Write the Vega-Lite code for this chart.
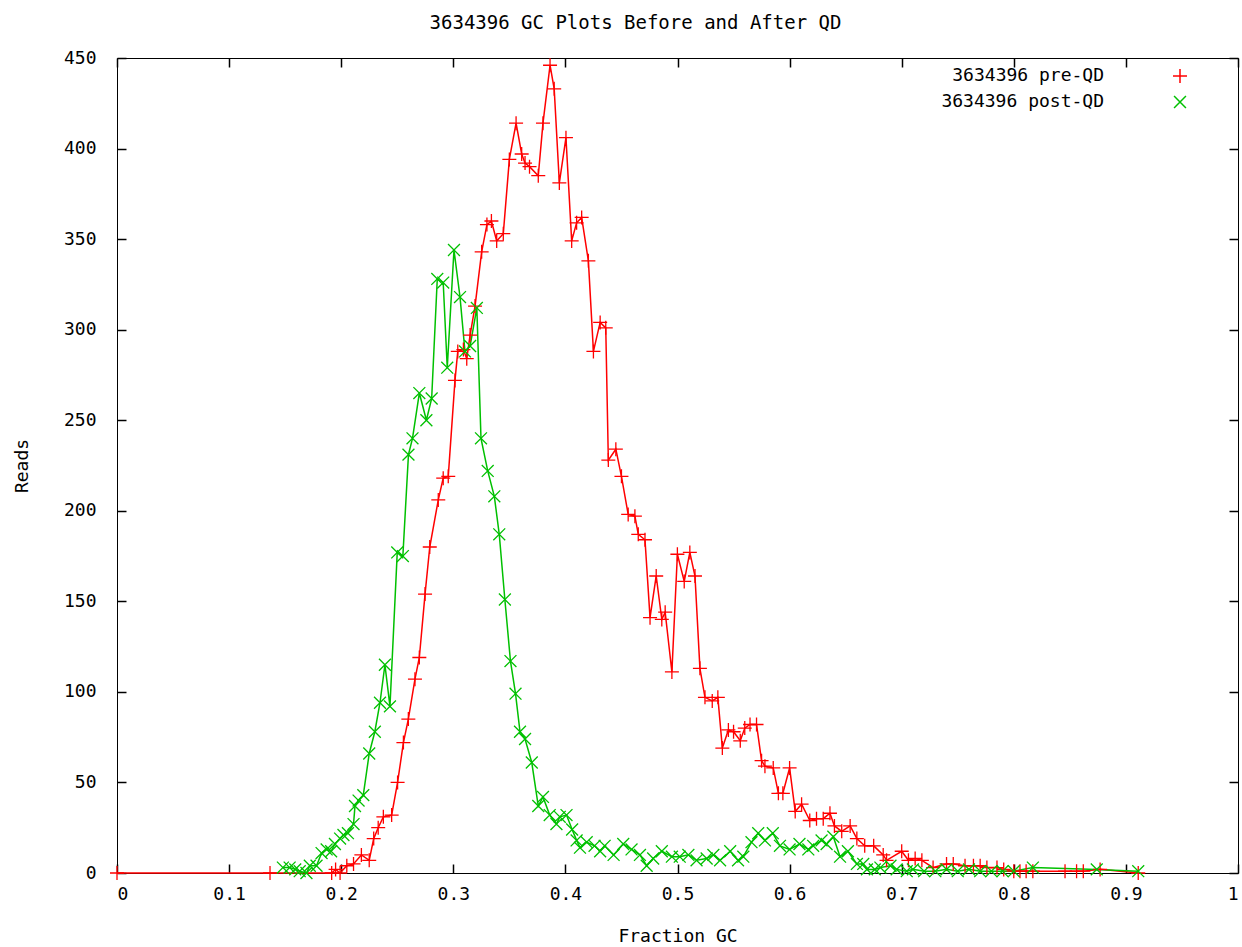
{
  "$schema": "https://vega.github.io/schema/vega-lite/v6.json",
  "width": 1121,
  "height": 815,
  "autosize": "none",
  "padding": {"left": 117, "top": 58, "right": 4, "bottom": 74},
  "background": "white",
  "title": {"text": "3634396 GC Plots Before and After QD", "font": "DejaVu Sans Mono", "fontSize": 19, "fontWeight": "normal", "color": "#000", "anchor": "middle", "dx": -42, "offset": 16},
  "config": {
    "view": {"stroke": "#000", "strokeWidth": 1},
    "axis": {"domain": false, "grid": false, "ticks": true, "tickColor": "#000", "tickOpacity": 1, "tickSize": 9, "tickWidth": 1.5, "offset": -9, "zindex": 1, "labelFont": "DejaVu Sans Mono", "labelFontSize": 18, "labelColor": "#000", "titleFont": "DejaVu Sans Mono", "titleFontSize": 18, "titleFontWeight": "normal", "titleColor": "#000"},
    "legend": {"orient": "none", "legendX": 1054, "legendY": 9, "title": null, "padding": 0, "labelAlign": "right", "labelOffset": -85, "labelLimit": 400, "labelFont": "DejaVu Sans Mono", "labelFontSize": 18, "labelColor": "#000", "rowPadding": 7, "symbolSize": 196, "symbolStrokeWidth": 1.5}
  },
  "resolve": {"legend": {"color": "independent", "shape": "independent"}},
  "data": {"values": [
    {"series": "3634396 pre-QD", "gc": 0, "reads": 0},
    {"series": "3634396 pre-QD", "gc": 0.1365, "reads": 0},
    {"series": "3634396 pre-QD", "gc": 0.1915, "reads": 0},
    {"series": "3634396 pre-QD", "gc": 0.195, "reads": 2},
    {"series": "3634396 pre-QD", "gc": 0.199, "reads": 0},
    {"series": "3634396 pre-QD", "gc": 0.205, "reads": 4},
    {"series": "3634396 pre-QD", "gc": 0.211, "reads": 5},
    {"series": "3634396 pre-QD", "gc": 0.218, "reads": 10},
    {"series": "3634396 pre-QD", "gc": 0.225, "reads": 7},
    {"series": "3634396 pre-QD", "gc": 0.229, "reads": 19},
    {"series": "3634396 pre-QD", "gc": 0.233, "reads": 25},
    {"series": "3634396 pre-QD", "gc": 0.2376, "reads": 31},
    {"series": "3634396 pre-QD", "gc": 0.245, "reads": 32},
    {"series": "3634396 pre-QD", "gc": 0.2503, "reads": 50},
    {"series": "3634396 pre-QD", "gc": 0.2555, "reads": 72},
    {"series": "3634396 pre-QD", "gc": 0.2599, "reads": 85},
    {"series": "3634396 pre-QD", "gc": 0.2658, "reads": 107},
    {"series": "3634396 pre-QD", "gc": 0.2697, "reads": 119},
    {"series": "3634396 pre-QD", "gc": 0.2748, "reads": 154},
    {"series": "3634396 pre-QD", "gc": 0.279, "reads": 180},
    {"series": "3634396 pre-QD", "gc": 0.2866, "reads": 206},
    {"series": "3634396 pre-QD", "gc": 0.291, "reads": 218},
    {"series": "3634396 pre-QD", "gc": 0.2955, "reads": 219},
    {"series": "3634396 pre-QD", "gc": 0.3015, "reads": 272},
    {"series": "3634396 pre-QD", "gc": 0.304, "reads": 288},
    {"series": "3634396 pre-QD", "gc": 0.309, "reads": 289},
    {"series": "3634396 pre-QD", "gc": 0.312, "reads": 284},
    {"series": "3634396 pre-QD", "gc": 0.315, "reads": 297},
    {"series": "3634396 pre-QD", "gc": 0.3194, "reads": 313},
    {"series": "3634396 pre-QD", "gc": 0.3253, "reads": 343},
    {"series": "3634396 pre-QD", "gc": 0.33, "reads": 358},
    {"series": "3634396 pre-QD", "gc": 0.334, "reads": 360},
    {"series": "3634396 pre-QD", "gc": 0.3387, "reads": 349},
    {"series": "3634396 pre-QD", "gc": 0.3446, "reads": 353},
    {"series": "3634396 pre-QD", "gc": 0.35, "reads": 394},
    {"series": "3634396 pre-QD", "gc": 0.356, "reads": 414},
    {"series": "3634396 pre-QD", "gc": 0.361, "reads": 397},
    {"series": "3634396 pre-QD", "gc": 0.364, "reads": 392},
    {"series": "3634396 pre-QD", "gc": 0.368, "reads": 390},
    {"series": "3634396 pre-QD", "gc": 0.3758, "reads": 385},
    {"series": "3634396 pre-QD", "gc": 0.38, "reads": 414},
    {"series": "3634396 pre-QD", "gc": 0.3863, "reads": 446},
    {"series": "3634396 pre-QD", "gc": 0.39, "reads": 433},
    {"series": "3634396 pre-QD", "gc": 0.3946, "reads": 381},
    {"series": "3634396 pre-QD", "gc": 0.4005, "reads": 406},
    {"series": "3634396 pre-QD", "gc": 0.4056, "reads": 349},
    {"series": "3634396 pre-QD", "gc": 0.41, "reads": 359},
    {"series": "3634396 pre-QD", "gc": 0.4145, "reads": 362},
    {"series": "3634396 pre-QD", "gc": 0.4205, "reads": 338},
    {"series": "3634396 pre-QD", "gc": 0.425, "reads": 288},
    {"series": "3634396 pre-QD", "gc": 0.431, "reads": 304},
    {"series": "3634396 pre-QD", "gc": 0.436, "reads": 301},
    {"series": "3634396 pre-QD", "gc": 0.4383, "reads": 228},
    {"series": "3634396 pre-QD", "gc": 0.445, "reads": 234},
    {"series": "3634396 pre-QD", "gc": 0.45, "reads": 219},
    {"series": "3634396 pre-QD", "gc": 0.456, "reads": 198},
    {"series": "3634396 pre-QD", "gc": 0.462, "reads": 197},
    {"series": "3634396 pre-QD", "gc": 0.465, "reads": 187},
    {"series": "3634396 pre-QD", "gc": 0.471, "reads": 184},
    {"series": "3634396 pre-QD", "gc": 0.4755, "reads": 141},
    {"series": "3634396 pre-QD", "gc": 0.481, "reads": 164},
    {"series": "3634396 pre-QD", "gc": 0.486, "reads": 140},
    {"series": "3634396 pre-QD", "gc": 0.489, "reads": 144},
    {"series": "3634396 pre-QD", "gc": 0.495, "reads": 111},
    {"series": "3634396 pre-QD", "gc": 0.4999, "reads": 176},
    {"series": "3634396 pre-QD", "gc": 0.506, "reads": 161},
    {"series": "3634396 pre-QD", "gc": 0.511, "reads": 177},
    {"series": "3634396 pre-QD", "gc": 0.5156, "reads": 164},
    {"series": "3634396 pre-QD", "gc": 0.52, "reads": 113},
    {"series": "3634396 pre-QD", "gc": 0.5245, "reads": 97},
    {"series": "3634396 pre-QD", "gc": 0.531, "reads": 95},
    {"series": "3634396 pre-QD", "gc": 0.536, "reads": 97},
    {"series": "3634396 pre-QD", "gc": 0.54, "reads": 69},
    {"series": "3634396 pre-QD", "gc": 0.5454, "reads": 79},
    {"series": "3634396 pre-QD", "gc": 0.55, "reads": 78},
    {"series": "3634396 pre-QD", "gc": 0.556, "reads": 73},
    {"series": "3634396 pre-QD", "gc": 0.56, "reads": 80},
    {"series": "3634396 pre-QD", "gc": 0.5647, "reads": 82},
    {"series": "3634396 pre-QD", "gc": 0.5705, "reads": 82},
    {"series": "3634396 pre-QD", "gc": 0.575, "reads": 62},
    {"series": "3634396 pre-QD", "gc": 0.578, "reads": 59},
    {"series": "3634396 pre-QD", "gc": 0.5854, "reads": 58},
    {"series": "3634396 pre-QD", "gc": 0.59, "reads": 44},
    {"series": "3634396 pre-QD", "gc": 0.594, "reads": 44},
    {"series": "3634396 pre-QD", "gc": 0.6, "reads": 58},
    {"series": "3634396 pre-QD", "gc": 0.605, "reads": 34},
    {"series": "3634396 pre-QD", "gc": 0.6107, "reads": 38},
    {"series": "3634396 pre-QD", "gc": 0.618, "reads": 29},
    {"series": "3634396 pre-QD", "gc": 0.624, "reads": 30},
    {"series": "3634396 pre-QD", "gc": 0.63, "reads": 30},
    {"series": "3634396 pre-QD", "gc": 0.636, "reads": 33},
    {"series": "3634396 pre-QD", "gc": 0.64, "reads": 26},
    {"series": "3634396 pre-QD", "gc": 0.6465, "reads": 23},
    {"series": "3634396 pre-QD", "gc": 0.654, "reads": 26},
    {"series": "3634396 pre-QD", "gc": 0.66, "reads": 19},
    {"series": "3634396 pre-QD", "gc": 0.667, "reads": 15},
    {"series": "3634396 pre-QD", "gc": 0.675, "reads": 15},
    {"series": "3634396 pre-QD", "gc": 0.6835, "reads": 10},
    {"series": "3634396 pre-QD", "gc": 0.6865, "reads": 7},
    {"series": "3634396 pre-QD", "gc": 0.7, "reads": 12},
    {"series": "3634396 pre-QD", "gc": 0.706, "reads": 7},
    {"series": "3634396 pre-QD", "gc": 0.712, "reads": 8},
    {"series": "3634396 pre-QD", "gc": 0.718, "reads": 7},
    {"series": "3634396 pre-QD", "gc": 0.728, "reads": 3},
    {"series": "3634396 pre-QD", "gc": 0.74, "reads": 5},
    {"series": "3634396 pre-QD", "gc": 0.746, "reads": 5},
    {"series": "3634396 pre-QD", "gc": 0.7565, "reads": 4},
    {"series": "3634396 pre-QD", "gc": 0.764, "reads": 4},
    {"series": "3634396 pre-QD", "gc": 0.77, "reads": 4},
    {"series": "3634396 pre-QD", "gc": 0.776, "reads": 3},
    {"series": "3634396 pre-QD", "gc": 0.785, "reads": 3},
    {"series": "3634396 pre-QD", "gc": 0.791, "reads": 2},
    {"series": "3634396 pre-QD", "gc": 0.8, "reads": 1},
    {"series": "3634396 pre-QD", "gc": 0.8055, "reads": 1},
    {"series": "3634396 pre-QD", "gc": 0.811, "reads": 1},
    {"series": "3634396 pre-QD", "gc": 0.817, "reads": 1},
    {"series": "3634396 pre-QD", "gc": 0.8457, "reads": 1},
    {"series": "3634396 pre-QD", "gc": 0.856, "reads": 1},
    {"series": "3634396 pre-QD", "gc": 0.862, "reads": 1},
    {"series": "3634396 pre-QD", "gc": 0.877, "reads": 2},
    {"series": "3634396 pre-QD", "gc": 0.911, "reads": 0},
    {"series": "3634396 post-QD", "gc": 0.148, "reads": 3},
    {"series": "3634396 post-QD", "gc": 0.154, "reads": 3},
    {"series": "3634396 post-QD", "gc": 0.159, "reads": 2},
    {"series": "3634396 post-QD", "gc": 0.163, "reads": 1},
    {"series": "3634396 post-QD", "gc": 0.169, "reads": 0},
    {"series": "3634396 post-QD", "gc": 0.172, "reads": 4},
    {"series": "3634396 post-QD", "gc": 0.178, "reads": 4},
    {"series": "3634396 post-QD", "gc": 0.1825, "reads": 11},
    {"series": "3634396 post-QD", "gc": 0.187, "reads": 13},
    {"series": "3634396 post-QD", "gc": 0.191, "reads": 12},
    {"series": "3634396 post-QD", "gc": 0.1944, "reads": 16},
    {"series": "3634396 post-QD", "gc": 0.199, "reads": 19},
    {"series": "3634396 post-QD", "gc": 0.202, "reads": 21},
    {"series": "3634396 post-QD", "gc": 0.206, "reads": 22},
    {"series": "3634396 post-QD", "gc": 0.211, "reads": 27},
    {"series": "3634396 post-QD", "gc": 0.2123, "reads": 37},
    {"series": "3634396 post-QD", "gc": 0.2155, "reads": 40},
    {"series": "3634396 post-QD", "gc": 0.2197, "reads": 43},
    {"series": "3634396 post-QD", "gc": 0.225, "reads": 66},
    {"series": "3634396 post-QD", "gc": 0.23, "reads": 78},
    {"series": "3634396 post-QD", "gc": 0.2346, "reads": 94},
    {"series": "3634396 post-QD", "gc": 0.239, "reads": 115},
    {"series": "3634396 post-QD", "gc": 0.2435, "reads": 92},
    {"series": "3634396 post-QD", "gc": 0.25, "reads": 177},
    {"series": "3634396 post-QD", "gc": 0.255, "reads": 175},
    {"series": "3634396 post-QD", "gc": 0.26, "reads": 231},
    {"series": "3634396 post-QD", "gc": 0.2636, "reads": 240},
    {"series": "3634396 post-QD", "gc": 0.2697, "reads": 265},
    {"series": "3634396 post-QD", "gc": 0.276, "reads": 250},
    {"series": "3634396 post-QD", "gc": 0.2807, "reads": 262},
    {"series": "3634396 post-QD", "gc": 0.2857, "reads": 328},
    {"series": "3634396 post-QD", "gc": 0.291, "reads": 326},
    {"series": "3634396 post-QD", "gc": 0.2946, "reads": 279},
    {"series": "3634396 post-QD", "gc": 0.3006, "reads": 344},
    {"series": "3634396 post-QD", "gc": 0.306, "reads": 318},
    {"series": "3634396 post-QD", "gc": 0.3104, "reads": 288},
    {"series": "3634396 post-QD", "gc": 0.315, "reads": 291},
    {"series": "3634396 post-QD", "gc": 0.321, "reads": 312},
    {"series": "3634396 post-QD", "gc": 0.3247, "reads": 240},
    {"series": "3634396 post-QD", "gc": 0.3307, "reads": 222},
    {"series": "3634396 post-QD", "gc": 0.3366, "reads": 208},
    {"series": "3634396 post-QD", "gc": 0.341, "reads": 187},
    {"series": "3634396 post-QD", "gc": 0.346, "reads": 151},
    {"series": "3634396 post-QD", "gc": 0.351, "reads": 117},
    {"series": "3634396 post-QD", "gc": 0.3555, "reads": 99},
    {"series": "3634396 post-QD", "gc": 0.3595, "reads": 78},
    {"series": "3634396 post-QD", "gc": 0.364, "reads": 74},
    {"series": "3634396 post-QD", "gc": 0.37, "reads": 61},
    {"series": "3634396 post-QD", "gc": 0.3758, "reads": 37},
    {"series": "3634396 post-QD", "gc": 0.38, "reads": 42},
    {"series": "3634396 post-QD", "gc": 0.386, "reads": 32},
    {"series": "3634396 post-QD", "gc": 0.392, "reads": 27},
    {"series": "3634396 post-QD", "gc": 0.395, "reads": 31},
    {"series": "3634396 post-QD", "gc": 0.401, "reads": 32},
    {"series": "3634396 post-QD", "gc": 0.406, "reads": 24},
    {"series": "3634396 post-QD", "gc": 0.41, "reads": 18},
    {"series": "3634396 post-QD", "gc": 0.413, "reads": 14},
    {"series": "3634396 post-QD", "gc": 0.419, "reads": 17},
    {"series": "3634396 post-QD", "gc": 0.426, "reads": 15},
    {"series": "3634396 post-QD", "gc": 0.431, "reads": 12},
    {"series": "3634396 post-QD", "gc": 0.435, "reads": 15},
    {"series": "3634396 post-QD", "gc": 0.443, "reads": 10},
    {"series": "3634396 post-QD", "gc": 0.4516, "reads": 16},
    {"series": "3634396 post-QD", "gc": 0.459, "reads": 13},
    {"series": "3634396 post-QD", "gc": 0.4665, "reads": 10},
    {"series": "3634396 post-QD", "gc": 0.4725, "reads": 4},
    {"series": "3634396 post-QD", "gc": 0.4783, "reads": 8},
    {"series": "3634396 post-QD", "gc": 0.486, "reads": 12},
    {"series": "3634396 post-QD", "gc": 0.495, "reads": 9},
    {"series": "3634396 post-QD", "gc": 0.502, "reads": 9},
    {"series": "3634396 post-QD", "gc": 0.5097, "reads": 10},
    {"series": "3634396 post-QD", "gc": 0.517, "reads": 7},
    {"series": "3634396 post-QD", "gc": 0.526, "reads": 8},
    {"series": "3634396 post-QD", "gc": 0.532, "reads": 10},
    {"series": "3634396 post-QD", "gc": 0.538, "reads": 7},
    {"series": "3634396 post-QD", "gc": 0.547, "reads": 12},
    {"series": "3634396 post-QD", "gc": 0.554, "reads": 7},
    {"series": "3634396 post-QD", "gc": 0.5587, "reads": 9},
    {"series": "3634396 post-QD", "gc": 0.566, "reads": 17},
    {"series": "3634396 post-QD", "gc": 0.572, "reads": 22},
    {"series": "3634396 post-QD", "gc": 0.578, "reads": 18},
    {"series": "3634396 post-QD", "gc": 0.585, "reads": 22},
    {"series": "3634396 post-QD", "gc": 0.5914, "reads": 15},
    {"series": "3634396 post-QD", "gc": 0.6, "reads": 13},
    {"series": "3634396 post-QD", "gc": 0.6088, "reads": 16},
    {"series": "3634396 post-QD", "gc": 0.6167, "reads": 13},
    {"series": "3634396 post-QD", "gc": 0.621, "reads": 15},
    {"series": "3634396 post-QD", "gc": 0.6285, "reads": 18},
    {"series": "3634396 post-QD", "gc": 0.633, "reads": 16},
    {"series": "3634396 post-QD", "gc": 0.639, "reads": 20},
    {"series": "3634396 post-QD", "gc": 0.645, "reads": 9},
    {"series": "3634396 post-QD", "gc": 0.652, "reads": 12},
    {"series": "3634396 post-QD", "gc": 0.66, "reads": 5},
    {"series": "3634396 post-QD", "gc": 0.6657, "reads": 5},
    {"series": "3634396 post-QD", "gc": 0.669, "reads": 2},
    {"series": "3634396 post-QD", "gc": 0.676, "reads": 2},
    {"series": "3634396 post-QD", "gc": 0.681, "reads": 3},
    {"series": "3634396 post-QD", "gc": 0.69, "reads": 4},
    {"series": "3634396 post-QD", "gc": 0.6955, "reads": 2},
    {"series": "3634396 post-QD", "gc": 0.7045, "reads": 1},
    {"series": "3634396 post-QD", "gc": 0.71, "reads": 2},
    {"series": "3634396 post-QD", "gc": 0.72, "reads": 1},
    {"series": "3634396 post-QD", "gc": 0.73, "reads": 1},
    {"series": "3634396 post-QD", "gc": 0.74, "reads": 2},
    {"series": "3634396 post-QD", "gc": 0.75, "reads": 1},
    {"series": "3634396 post-QD", "gc": 0.76, "reads": 2},
    {"series": "3634396 post-QD", "gc": 0.77, "reads": 1},
    {"series": "3634396 post-QD", "gc": 0.78, "reads": 1},
    {"series": "3634396 post-QD", "gc": 0.79, "reads": 1},
    {"series": "3634396 post-QD", "gc": 0.8, "reads": 1},
    {"series": "3634396 post-QD", "gc": 0.817, "reads": 3},
    {"series": "3634396 post-QD", "gc": 0.874, "reads": 2},
    {"series": "3634396 post-QD", "gc": 0.911, "reads": 1}
  ]},
  "layer": [
    {
      "mark": {"type": "line", "strokeWidth": 1.5},
      "encoding": {
        "x": {"field": "gc", "type": "quantitative", "scale": {"domain": [0, 1], "nice": false, "zero": false},
              "axis": {"orient": "bottom", "values": [0, 0.1, 0.2, 0.3, 0.4, 0.5, 0.6, 0.7, 0.8, 0.9, 1], "format": "~g", "title": "Fraction GC", "labelPadding": 12, "titlePadding": 24}},
        "y": {"field": "reads", "type": "quantitative", "scale": {"domain": [0, 450], "nice": false},
              "axis": {"orient": "left", "values": [0, 50, 100, 150, 200, 250, 300, 350, 400, 450], "title": "Reads", "labelPadding": 21, "titlePadding": 32}},
        "color": {"field": "series", "type": "nominal", "scale": {"domain": ["3634396 pre-QD", "3634396 post-QD"], "range": ["#ff0000", "#00c000"]}, "legend": null}
      }
    },
    {
      "mark": {"type": "point", "filled": false, "strokeWidth": 1.3, "size": 196, "opacity": 1},
      "encoding": {
        "x": {"field": "gc", "type": "quantitative", "scale": {"domain": [0, 1], "nice": false, "zero": false},
              "axis": {"orient": "top", "values": [0, 0.1, 0.2, 0.3, 0.4, 0.5, 0.6, 0.7, 0.8, 0.9, 1], "labels": false, "title": null}},
        "y": {"field": "reads", "type": "quantitative", "scale": {"domain": [0, 450], "nice": false},
              "axis": {"orient": "right", "values": [0, 50, 100, 150, 200, 250, 300, 350, 400, 450], "labels": false, "title": null}},
        "color": {"field": "series", "type": "nominal", "scale": {"domain": ["3634396 pre-QD", "3634396 post-QD"], "range": ["#ff0000", "#00c000"]}},
        "shape": {"field": "series", "type": "nominal", "scale": {"domain": ["3634396 pre-QD", "3634396 post-QD"], "range": ["M-1,0L1,0M0,-1L0,1", "M-0.85,-0.85L0.85,0.85M-0.85,0.85L0.85,-0.85"]}}
      }
    }
  ]
}
